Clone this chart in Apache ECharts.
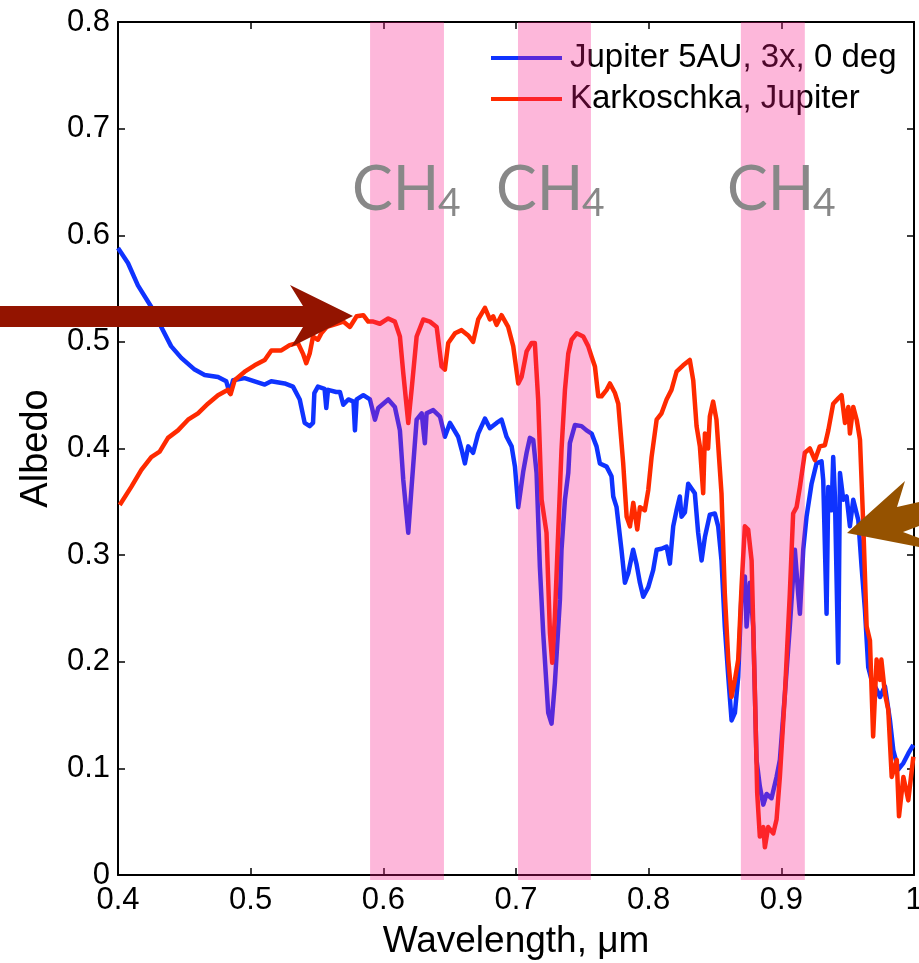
<!DOCTYPE html>
<html>
<head>
<meta charset="utf-8">
<script src="https://cdn.jsdelivr.net/npm/echarts@6/dist/echarts.min.js"></script>
<style>
html,body{margin:0;padding:0;background:#fff;}
#chart{width:919px;height:963px;}
</style>
</head>
<body>
<div id="chart"></div>
<script>
// ---- data ----
const blueName = 'Jupiter 5AU, 3x, 0 deg';
const redName = 'Karkoschka, Jupiter';

const blueX = [0.400,0.4075,0.415,0.425,0.4326,0.440,0.4477,0.4578,0.4653,0.4754,0.4816,0.4842,0.4867,0.4955,0.503,0.5106,0.5155,0.5256,0.5319,0.537,0.5407,0.5445,0.547,0.548,0.5507,0.5557,0.557,0.5583,0.5645,0.5673,0.5698,0.5736,0.5775,0.5786,0.5799,0.5849,0.5899,0.5937,0.5962,0.6037,0.6087,0.6125,0.615,0.6188,0.6213,0.6251,0.6289,0.6313,0.6326,0.6376,0.6427,0.6464,0.6502,0.6564,0.659,0.6615,0.664,0.6677,0.6715,0.6766,0.6803,0.6854,0.6891,0.6929,0.6967,0.6992,0.7017,0.7054,0.708,0.7105,0.713,0.7155,0.718,0.7205,0.7243,0.7268,0.7293,0.7331,0.7343,0.7369,0.7394,0.7406,0.7444,0.7494,0.7532,0.757,0.7607,0.7632,0.7683,0.772,0.7733,0.7758,0.7795,0.7821,0.7846,0.7883,0.7908,0.7934,0.7959,0.7997,0.8034,0.806,0.8097,0.8135,0.816,0.8185,0.821,0.8235,0.8248,0.8273,0.8298,0.831,0.8348,0.8373,0.8399,0.8424,0.8461,0.8499,0.8524,0.8549,0.8574,0.860,0.8625,0.865,0.8675,0.870,0.8725,0.8738,0.8763,0.8788,0.8813,0.8838,0.8864,0.8889,0.8926,0.8964,0.8989,0.9027,0.9064,0.9102,0.9127,0.914,0.9165,0.919,0.9228,0.9265,0.9303,0.9316,0.9341,0.9354,0.9379,0.9391,0.9404,0.9429,0.9442,0.9467,0.9492,0.9517,0.9542,0.958,0.9605,0.963,0.9655,0.968,0.9718,0.9744,0.9781,0.9819,0.9844,0.9882,0.992,0.9957,0.9995];
const blueY = [0.588,0.574,0.553,0.533,0.514,0.496,0.485,0.474,0.469,0.467,0.463,0.452,0.464,0.466,0.463,0.460,0.463,0.461,0.458,0.446,0.424,0.421,0.424,0.452,0.458,0.456,0.438,0.455,0.453,0.453,0.441,0.446,0.444,0.417,0.446,0.450,0.446,0.427,0.438,0.446,0.439,0.417,0.371,0.321,0.364,0.427,0.433,0.405,0.433,0.436,0.430,0.411,0.424,0.411,0.399,0.386,0.402,0.396,0.414,0.428,0.419,0.424,0.427,0.411,0.402,0.383,0.345,0.378,0.396,0.410,0.408,0.377,0.289,0.227,0.152,0.142,0.180,0.258,0.305,0.352,0.377,0.405,0.422,0.421,0.417,0.414,0.402,0.386,0.383,0.374,0.355,0.345,0.305,0.274,0.283,0.305,0.292,0.274,0.261,0.270,0.286,0.305,0.306,0.308,0.292,0.327,0.342,0.355,0.336,0.340,0.367,0.367,0.358,0.321,0.295,0.317,0.338,0.339,0.327,0.295,0.233,0.186,0.145,0.152,0.186,0.264,0.280,0.233,0.274,0.233,0.108,0.083,0.066,0.076,0.072,0.092,0.108,0.170,0.233,0.305,0.264,0.245,0.305,0.336,0.367,0.386,0.388,0.370,0.245,0.364,0.342,0.392,0.355,0.199,0.377,0.352,0.355,0.327,0.352,0.333,0.289,0.249,0.195,0.183,0.174,0.167,0.177,0.145,0.117,0.099,0.105,0.114,0.122];

const redX = [0.4013,0.410,0.4176,0.4251,0.4314,0.4377,0.4452,0.4528,0.4603,0.4678,0.4754,0.4829,0.4849,0.4879,0.4955,0.503,0.5106,0.5156,0.5231,0.5294,0.5356,0.5394,0.5419,0.5445,0.547,0.5507,0.5532,0.5573,0.5648,0.5698,0.5748,0.5799,0.5849,0.5886,0.5924,0.5974,0.6037,0.6087,0.6125,0.615,0.6188,0.6213,0.6251,0.6301,0.6351,0.6402,0.6439,0.6464,0.6489,0.654,0.659,0.664,0.6677,0.6715,0.6766,0.6803,0.6828,0.6854,0.6891,0.6941,0.6979,0.7017,0.7042,0.708,0.7118,0.7142,0.7167,0.7193,0.723,0.7256,0.7273,0.7293,0.7318,0.7343,0.7369,0.7394,0.7419,0.7457,0.7507,0.7544,0.757,0.7595,0.762,0.7645,0.7683,0.7708,0.7746,0.7771,0.7808,0.7834,0.7859,0.7884,0.7914,0.7934,0.7971,0.7997,0.8022,0.806,0.8097,0.8135,0.8172,0.821,0.826,0.831,0.8336,0.8361,0.8386,0.8411,0.8424,0.8448,0.8461,0.8486,0.8511,0.8549,0.8574,0.860,0.8625,0.865,0.8675,0.870,0.8725,0.875,0.8776,0.8801,0.8818,0.8838,0.8864,0.8876,0.8901,0.8939,0.8964,0.8989,0.9027,0.9064,0.9089,0.9115,0.914,0.9177,0.9215,0.9253,0.929,0.9328,0.9354,0.9391,0.9429,0.9454,0.948,0.9505,0.9517,0.9542,0.9568,0.9593,0.9618,0.9643,0.9668,0.9692,0.9718,0.9744,0.9754,0.9781,0.9806,0.9832,0.987,0.9887,0.992,0.9957,0.9995];
const redY = [0.347,0.364,0.380,0.392,0.397,0.410,0.417,0.427,0.433,0.442,0.450,0.455,0.451,0.464,0.472,0.478,0.483,0.492,0.492,0.497,0.499,0.489,0.480,0.489,0.505,0.502,0.508,0.514,0.517,0.519,0.514,0.524,0.525,0.519,0.519,0.517,0.522,0.519,0.505,0.471,0.424,0.455,0.505,0.521,0.519,0.514,0.477,0.474,0.499,0.508,0.511,0.506,0.500,0.521,0.532,0.521,0.524,0.516,0.525,0.514,0.496,0.461,0.467,0.491,0.499,0.499,0.446,0.352,0.321,0.227,0.199,0.242,0.321,0.399,0.455,0.489,0.502,0.508,0.505,0.496,0.486,0.477,0.449,0.449,0.455,0.461,0.452,0.442,0.386,0.336,0.327,0.349,0.324,0.345,0.342,0.361,0.392,0.427,0.433,0.446,0.455,0.472,0.478,0.483,0.464,0.421,0.402,0.358,0.414,0.400,0.430,0.444,0.427,0.358,0.264,0.202,0.167,0.183,0.202,0.270,0.327,0.324,0.295,0.170,0.077,0.036,0.045,0.026,0.045,0.039,0.052,0.092,0.170,0.264,0.339,0.345,0.364,0.396,0.400,0.389,0.402,0.403,0.417,0.442,0.447,0.450,0.424,0.439,0.414,0.439,0.427,0.408,0.327,0.233,0.220,0.130,0.202,0.183,0.202,0.170,0.155,0.092,0.108,0.055,0.092,0.070,0.111];

const bandStart = [0.590, 0.7015, 0.8695];
const bandEnd = [0.6457, 0.7565, 0.9177];

const xTicks = {min: 0.4, max: 1, interval: 0.1};
const yTicks = {min: 0, max: 0.8, interval: 0.1};

// ---- chart ----
const zip = (xs, ys) => xs.map((x, i) => [x, ys[i]]);
const bands = bandStart.map((s, i) => [s, bandEnd[i]]);

const FONT = '"Liberation Sans", Arial, Helvetica, sans-serif';
const chart = echarts.init(document.getElementById('chart'), null, {renderer: 'canvas'});

const axisLine = {show: true, onZero: false, lineStyle: {color: '#000', width: 2}};
const tick = {show: true, inside: true, length: 7, lineStyle: {color: '#000', width: 1.5}};

chart.setOption({
  animation: false,
  backgroundColor: '#fff',
  grid: {left: 118, right: 5, top: 22, bottom: 88, containLabel: false, outerBoundsMode: 'none'},
  legend: {
    data: [blueName, redName],
    orient: 'vertical',
    left: 491, top: 41,
    padding: 0,
    icon: 'rect',
    itemWidth: 71, itemHeight: 4,
    itemGap: 7,
    z: 3,
    textStyle: {fontFamily: FONT, fontSize: 33, color: '#000', lineHeight: 34, padding: [0, 0, 0, 3]},
    selectedMode: false
  },
  xAxis: [{
    type: 'value', min: xTicks.min, max: xTicks.max, interval: xTicks.interval,
    position: 'bottom',
    axisLine: axisLine, axisTick: tick, splitLine: {show: false},
    axisLabel: {fontFamily: FONT, fontSize: 31, color: '#000', margin: 10},
    name: 'Wavelength, μm', nameLocation: 'middle', nameGap: 48,
    nameTextStyle: {fontFamily: FONT, fontSize: 37, color: '#000'}
  }, {
    type: 'value', min: xTicks.min, max: xTicks.max, interval: xTicks.interval,
    position: 'top',
    axisLine: axisLine, axisTick: tick, splitLine: {show: false},
    axisLabel: {show: false}
  }],
  yAxis: [{
    type: 'value', min: yTicks.min, max: yTicks.max, interval: yTicks.interval,
    position: 'left',
    axisLine: axisLine, axisTick: tick, splitLine: {show: false},
    axisLabel: {fontFamily: FONT, fontSize: 31, color: '#000', margin: 8},
    name: 'Albedo', nameLocation: 'middle', nameGap: 61,
    nameTextStyle: {fontFamily: FONT, fontSize: 38, color: '#000'}
  }, {
    type: 'value', min: yTicks.min, max: yTicks.max, interval: yTicks.interval,
    position: 'right',
    axisLine: axisLine, axisTick: tick, splitLine: {show: false},
    axisLabel: {show: false}
  }],
  series: [{
    name: blueName, type: 'line', data: zip(blueX, blueY),
    showSymbol: false, symbol: 'none', z: 2,
    lineStyle: {color: '#0f33ff', width: 4.5, join: 'round'},
    itemStyle: {color: '#0f33ff'}
  }, {
    name: redName, type: 'line', data: zip(redX, redY),
    showSymbol: false, symbol: 'none', z: 2,
    lineStyle: {color: '#ff2a00', width: 4.5, join: 'round'},
    itemStyle: {color: '#ff2a00'}
  }, {
    name: 'CH4 bands', type: 'custom', z: 5, silent: true,
    encode: {x: [0, 1]},
    data: bands,
    renderItem: function (params, api) {
      const p0 = api.coord([api.value(0), yTicks.max]);
      const p1 = api.coord([api.value(1), yTicks.min]);
      return {
        type: 'rect',
        shape: {x: p0[0], y: p0[1], width: p1[0] - p0[0], height: p1[1] - p0[1] + 5},
        style: {fill: 'rgba(248,23,134,0.31)'}
      };
    }
  }]
});

// annotations: CH4 labels and arrows
const chFont = 'Lato, "Open Sans", sans-serif';
function ch4(xLeft) {
  return [
    {type: 'text', z: 100, left: xLeft, top: 160,
     style: {text: 'CH', font: '61px ' + chFont, fill: '#888888'}},
    {type: 'text', z: 100, left: xLeft + 86, top: 184,
     style: {text: '4', font: '39px ' + chFont, fill: '#888888'}}
  ];
}
chart.setOption({
  graphic: [].concat(ch4(352), ch4(496), ch4(727), [
    {type: 'polygon', z: 100,
     shape: {points: [[0,306],[303,306],[290,285],[353,316],[291,347],[303,327],[0,327]]},
     style: {fill: '#931400'}},
    {type: 'polygon', z: 100,
     shape: {points: [[847,533],[905,481],[897,507],[919,502],[919,526],[903,532],[919,538],[919,547]]},
     style: {fill: '#955200'}}
  ])
});
</script>
</body>
</html>
